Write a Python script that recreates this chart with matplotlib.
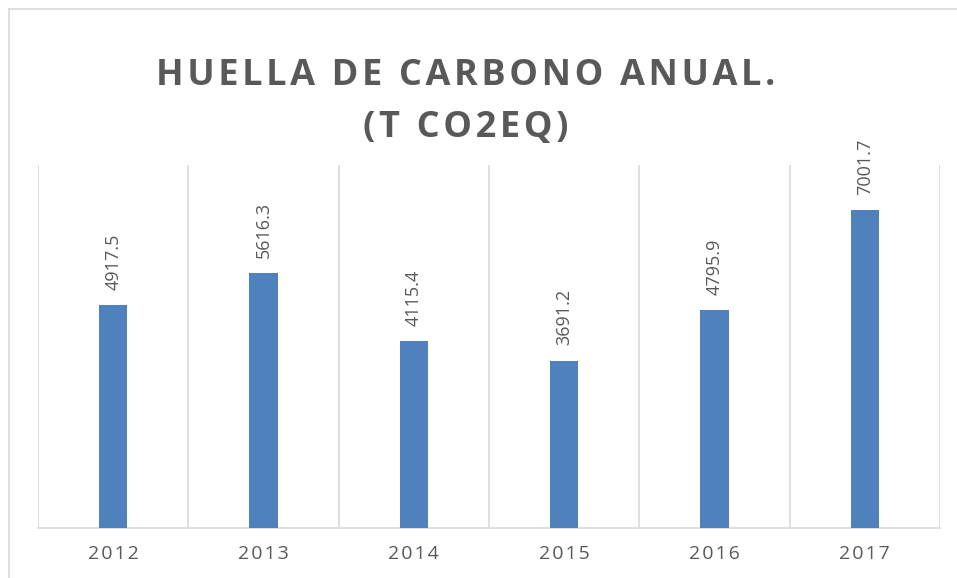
import matplotlib.pyplot as plt
from matplotlib.lines import Line2D

# ── Data ──────────────────────────────────────────────────────────────────────
YEARS  = ["2012", "2013", "2014", "2015", "2016", "2017"]
VALUES = [4917.5, 5616.3, 4115.4, 3691.2, 4795.9, 7001.7]
TITLE  = "HUELLA DE CARBONO ANUAL.\n(T CO2EQ)"

BAR_COLOR  = "#4F81BD"
TEXT_COLOR = "#595959"
GRID_COLOR = "#D9D9D9"
HS = "\u200a"   # hair space, for Excel-style letter spacing


def spaced(s, sep=HS):
    return sep.join(s)


fig = plt.figure(figsize=(9.57, 5.78), dpi=100)
ax = fig.add_axes([38 / 957, 50 / 578, 902 / 957, 363 / 578])

x = list(range(len(YEARS)))
ax.bar(x, VALUES, width=0.19, color=BAR_COLOR, zorder=3)

for xi, v in zip(x, VALUES):
    ax.annotate(f"{v:.1f}", (xi, v), xytext=(0, 11), textcoords="offset points",
                rotation=90, ha="center", va="bottom", fontsize=13,
                color=TEXT_COLOR, family="Open Sans")

ax.set_xlim(-0.5, len(YEARS) - 0.5)
ax.set_ylim(0, 8000)

# vertical gridlines between categories
for b in [i - 0.5 for i in range(len(YEARS) + 1)]:
    ax.axvline(b, color=GRID_COLOR, linewidth=1.2, zorder=1)

for side in ["top", "left", "right"]:
    ax.spines[side].set_visible(False)
ax.spines["bottom"].set_color(GRID_COLOR)
ax.spines["bottom"].set_linewidth(1.2)
ax.set_yticks([])
ax.set_xticks(x)
ax.set_xticklabels([spaced(y) for y in YEARS], fontsize=14,
                   color=TEXT_COLOR, family="Open Sans")
ax.tick_params(axis="x", length=0, pad=12)

lines = TITLE.split("\n")
fig.text(0.487, 0.9, spaced(lines[0]) + "\n" + spaced(lines[1]),
         ha="center", va="top", fontsize=26, fontweight="bold",
         color=TEXT_COLOR, family="Open Sans", linespacing=1.6)

# chart border (only top and left edges visible in the crop)
fig.add_artist(Line2D([9 / 957, 9 / 957], [0, 1 - 9 / 578], color=GRID_COLOR, lw=1.2))
fig.add_artist(Line2D([9 / 957, 1], [1 - 9 / 578, 1 - 9 / 578], color=GRID_COLOR, lw=1.2))

fig.savefig("out.png", dpi=100)
